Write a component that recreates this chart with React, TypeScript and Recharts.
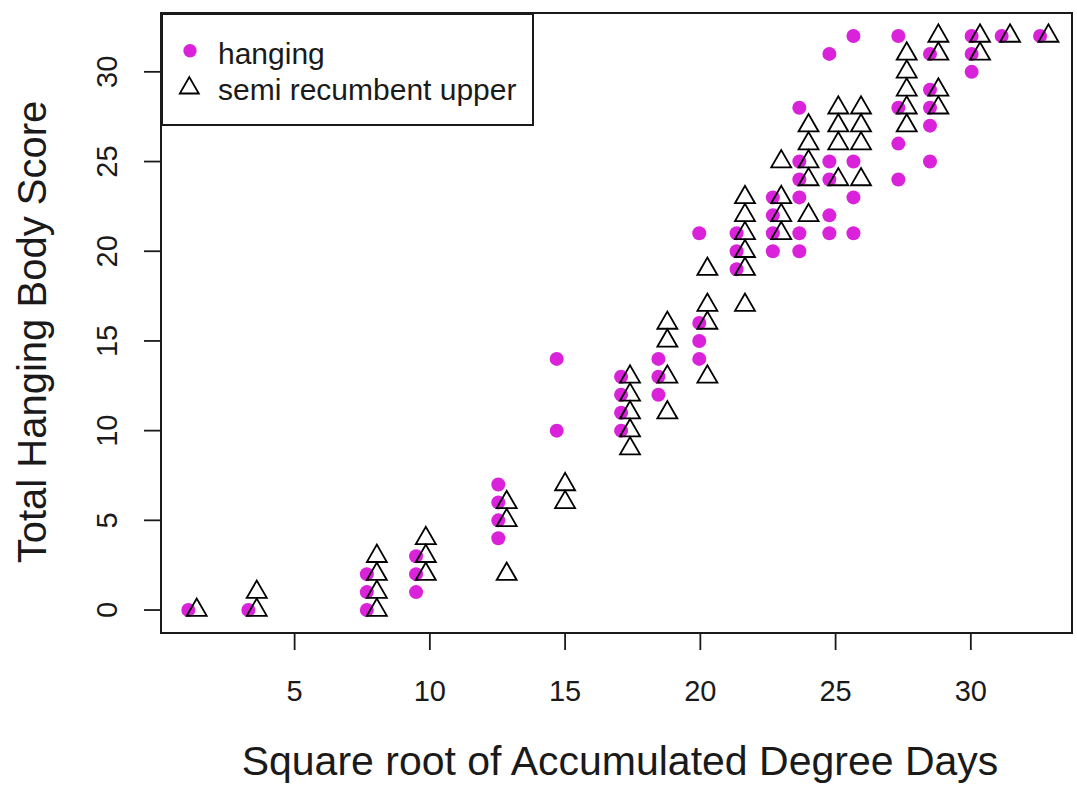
import React from "react";
import {
  ScatterChart,
  Scatter,
  XAxis,
  YAxis,
  ReferenceArea,
  Legend,
} from "recharts";

// ---- data ----
const seriesNames = ["hanging", "semi recumbent upper"];

// sqrt(ADD) value of each column of points, and the scores plotted at it
const hangingColumnX = [
  1.07, 3.29, 7.67, 9.49, 12.53, 14.69, 17.07, 18.45, 19.96, 21.34, 22.68,
  23.66, 24.77, 25.66, 27.32, 28.49, 30.03, 31.14, 32.56,
];
const hangingColumnScores = [
  [0],
  [0],
  [0, 1, 2],
  [1, 2, 3],
  [4, 5, 6, 7],
  [10, 14],
  [10, 11, 12, 13],
  [12, 13, 14],
  [14, 15, 16, 21],
  [19, 20, 21],
  [20, 21, 22, 23],
  [20, 21, 23, 24, 25, 28],
  [21, 22, 24, 25, 31],
  [21, 23, 25, 32],
  [24, 26, 28, 32],
  [25, 27, 28, 29, 31],
  [30, 31, 32],
  [32],
  [32],
];

const semiColumnX = [
  1.38, 3.6, 8.04, 9.85, 12.84, 15.0, 17.4, 18.78, 20.26, 21.65, 22.99, 24.0,
  25.1, 25.94, 27.63, 28.8, 30.34, 31.45, 32.87,
];
const semiColumnScores = [
  [0],
  [0, 1],
  [0, 1, 2, 3],
  [2, 3, 4],
  [2, 5, 6],
  [6, 7],
  [9, 10, 11, 12, 13],
  [11, 13, 15, 16],
  [13, 16, 17, 19],
  [17, 19, 20, 21, 22, 23],
  [21, 22, 23, 25],
  [22, 24, 25, 26, 27],
  [24, 26, 27, 28],
  [24, 26, 27, 28],
  [27, 28, 29, 30, 31],
  [28, 29, 31, 32],
  [31, 32],
  [32],
  [32],
];

const xTicks = [5, 10, 15, 20, 25, 30];
const yTicks = [0, 5, 10, 15, 20, 25, 30];
const xDomain: [number, number] = [0.06, 33.74];
const yDomain: [number, number] = [-1.28, 33.28];

const xTitle = "Square root of Accumulated Degree Days";
const yTitle = "Total Hanging Body Score";

const buildPoints = (xs: number[], scores: number[][]) =>
  xs.flatMap((x, i) => scores[i].map((y) => ({ x, y })));

const hangingData = buildPoints(hangingColumnX, hangingColumnScores);
const semiData = buildPoints(semiColumnX, semiColumnScores);

// ---- styles ----
const FONT = "'Liberation Sans', Arial, sans-serif";
const MAGENTA = "#DA22DA";
const INK = "#1a1a1a";

const CircleShape = (props: any) => {
  const { cx, cy } = props;
  if (cx == null || cy == null) return null;
  return <circle cx={cx} cy={cy} r={7} fill={MAGENTA} />;
};

const triPoints = (cx: number, cy: number, w: number) => {
  const h = (w * Math.sqrt(3)) / 2;
  return `${cx - w / 2},${cy + h / 3} ${cx + w / 2},${cy + h / 3} ${cx},${cy - (2 * h) / 3}`;
};

const TriangleShape = (props: any) => {
  const { cx, cy } = props;
  if (cx == null || cy == null) return null;
  return (
    <polygon
      points={triPoints(cx, cy, 20)}
      fill="none"
      stroke="#000"
      strokeWidth={1.8}
      strokeLinejoin="miter"
    />
  );
};

const XTick = (props: any) => {
  const { x, payload } = props;
  return (
    <text x={x} y={701} textAnchor="middle" fontSize={29} fontFamily={FONT} fill={INK}>
      {payload.value}
    </text>
  );
};

const YTick = (props: any) => {
  const { y, payload } = props;
  const bx = 117;
  return (
    <text
      x={bx}
      y={y}
      transform={`rotate(-90, ${bx}, ${y})`}
      textAnchor="middle"
      fontSize={29}
      fontFamily={FONT}
      fill={INK}
    >
      {payload.value}
    </text>
  );
};

const LegendBox = () => (
  <div
    style={{
      width: 373,
      height: 113,
      boxSizing: "border-box",
      border: `2px solid ${INK}`,
      background: "#fff",
      position: "relative",
    }}
  >
    <svg width={369} height={109} style={{ position: "absolute", left: 0, top: 0 }}>
      <circle cx={27} cy={35.7} r={6.7} fill={MAGENTA} />
      <polygon
        points={triPoints(26.3, 73, 19)}
        fill="none"
        stroke="#000"
        strokeWidth={1.8}
      />
      <text x={55} y={49} fontSize={30} fontFamily={FONT} fill={INK}>
        {seriesNames[0]}
      </text>
      <text x={55} y={85} fontSize={30} fontFamily={FONT} fill={INK}>
        {seriesNames[1]}
      </text>
    </svg>
  </div>
);

export default function App() {
  return (
    <div style={{ position: "absolute", left: 0, top: 0, background: "#fff" }}>
      <ScatterChart
        width={1077}
        height={786}
        margin={{ top: 13, right: 5, bottom: 0, left: 0 }}
      >
        <XAxis
          type="number"
          dataKey="x"
          domain={xDomain}
          ticks={xTicks}
          allowDataOverflow
          axisLine={false}
          tickLine={{ stroke: INK, strokeWidth: 1.8 }}
          tickSize={17}
          tick={<XTick />}
          height={153}
          label={{
            content: () => (
              <text x={620} y={775} textAnchor="middle" fontSize={41} fontFamily={FONT} fill={INK}>
                {xTitle}
              </text>
            ),
          }}
        />
        <YAxis
          type="number"
          dataKey="y"
          domain={yDomain}
          ticks={yTicks}
          allowDataOverflow
          axisLine={false}
          tickLine={{ stroke: INK, strokeWidth: 1.8 }}
          tickSize={17}
          tick={<YTick />}
          width={161}
          label={{
            content: () => (
              <text
                x={46}
                y={332}
                transform="rotate(-90, 46, 332)"
                textAnchor="middle"
                fontSize={40}
                fontFamily={FONT}
                fill={INK}
              >
                {yTitle}
              </text>
            ),
          }}
        />
        <ReferenceArea
          x1={xDomain[0]}
          x2={xDomain[1]}
          y1={yDomain[0]}
          y2={yDomain[1]}
          fill="none"
          fillOpacity={0}
          stroke={INK}
          strokeWidth={2}
          ifOverflow="visible"
        />
        <Scatter
          name={seriesNames[0]}
          data={hangingData}
          shape={<CircleShape />}
          isAnimationActive={false}
        />
        <Scatter
          name={seriesNames[1]}
          data={semiData}
          shape={<TriangleShape />}
          isAnimationActive={false}
        />
        <Legend
          layout="horizontal"
          verticalAlign="middle"
          align="center"
          content={() => <LegendBox />}
          wrapperStyle={{ position: "absolute", left: 161, top: 13, width: 373, height: 113 }}
        />
      </ScatterChart>
    </div>
  );
}
